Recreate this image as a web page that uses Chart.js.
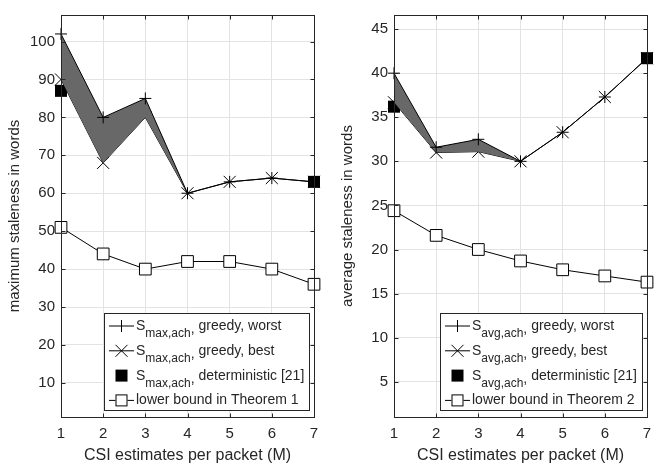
<!DOCTYPE html>
<html>
<head>
    <title>Staleness vs CSI estimates</title>
    <script src="https://cdn.jsdelivr.net/npm/chart.js@4.4.1/dist/chart.umd.min.js"></script>
    <style>
        body {
            margin: 0;
            padding: 0;
            background: #ffffff;
        }
        .wrap {
            position: relative;
            width: 667px;
            height: 468px;
        }
        .panel {
            position: absolute;
            top: 0;
            height: 468px;
        }
    </style>
</head>
<body>
    <div class="wrap">
        <div class="panel" style="left:0;width:333px"><canvas id="maxChart" width="333" height="468"></canvas></div>
        <div class="panel" style="left:333px;width:334px"><canvas id="avgChart" width="334" height="468"></canvas></div>
    </div>

    <script>
        // x axis: CSI estimates per packet
        const mValues = [1, 2, 3, 4, 5, 6, 7];

        // left panel: maximum staleness
        const maxWorst = [102, 80, 85, 60, 63, 64, 63];
        const maxBest = [90, 68, 80, 60, 63, 64, 63];
        const maxDeterministic = [87, null, null, null, null, null, 63];
        const maxLowerBound = [51, 44, 40, 42, 42, 40, 36];
        const maxTicks = [10, 20, 30, 40, 50, 60, 70, 80, 90, 100];

        // right panel: average staleness
        const avgWorst = [40, 31.6, 32.5, 30, 33.3, 37.3, 41.7];
        const avgBest = [36.7, 31, 31.1, 30, 33.3, 37.3, 41.7];
        const avgDeterministic = [36.2, null, null, null, null, null, 41.7];
        const avgLowerBound = [24.4, 21.6, 20, 18.7, 17.7, 17, 16.3];
        const avgTicks = [5, 10, 15, 20, 25, 30, 35, 40, 45];

        const FONT = '"Liberation Sans", Arial, Helvetica, sans-serif';
        const TEXT = '#262626';
        const FILL = '#686868';

        // axes box with inward tick marks, like matlab
        const framePlugin = {
            id: 'frame',
            afterDatasetsDraw(chart) {
                const ctx = chart.ctx;
                const a = chart.chartArea;
                const L = Math.round(a.left) + 0.5, R = Math.round(a.right) + 0.5;
                const T = Math.round(a.top) + 0.5, B = Math.round(a.bottom) + 0.5;
                ctx.save();
                ctx.strokeStyle = TEXT;
                ctx.lineWidth = 1;
                ctx.strokeRect(L, T, R - L, B - T);
                ctx.beginPath();
                chart.scales.x.ticks.forEach(t => {
                    const px = Math.round(chart.scales.x.getPixelForValue(t.value)) + 0.5;
                    ctx.moveTo(px, B); ctx.lineTo(px, B - 4);
                    ctx.moveTo(px, T); ctx.lineTo(px, T + 4);
                });
                chart.scales.y.ticks.forEach(t => {
                    const py = Math.round(chart.scales.y.getPixelForValue(t.value)) + 0.5;
                    ctx.moveTo(L, py); ctx.lineTo(L + 4, py);
                    ctx.moveTo(R, py); ctx.lineTo(R - 4, py);
                });
                ctx.stroke();
                ctx.restore();
            }
        };

        // legend with subscripts, drawn inside the axes bottom right
        const legendPlugin = {
            id: 'subLegend',
            afterDraw(chart, args, opts) {
                const ctx = chart.ctx;
                const a = chart.chartArea;
                const sub = opts.sub;
                ctx.save();
                ctx.textBaseline = 'alphabetic';
                ctx.textAlign = 'left';

                const rows = [
                    { text: ', greedy, worst', marker: 'plus', sub: true },
                    { text: ', greedy, best', marker: 'x', sub: true },
                    { text: ', deterministic [21]', marker: 'filled', sub: true },
                    { text: opts.boundLabel, marker: 'open', sub: false }
                ];

                // measure widest row
                let maxW = 0;
                rows.forEach(r => {
                    let w = 0;
                    if (r.sub) {
                        ctx.font = '14px ' + FONT;
                        w += ctx.measureText('S').width;
                        ctx.font = '12px ' + FONT;
                        w += ctx.measureText(sub).width;
                        ctx.font = '14px ' + FONT;
                        w += ctx.measureText(r.text).width;
                    } else {
                        ctx.font = '14px ' + FONT;
                        w = ctx.measureText(r.text).width;
                    }
                    maxW = Math.max(maxW, w);
                });

                const boxW = Math.round(32 + maxW + 5);
                const boxH = 97;
                const right = Math.round(a.right) - 5;
                const bottom = Math.round(a.bottom) - 7;
                const left = right - boxW, top = bottom - boxH;

                ctx.fillStyle = '#ffffff';
                ctx.fillRect(left, top, boxW, boxH);
                ctx.strokeStyle = TEXT;
                ctx.lineWidth = 1;
                ctx.strokeRect(left + 0.5, top + 0.5, boxW, boxH);

                rows.forEach((r, i) => {
                    const cy = top + 13 + i * 24.8;
                    const mx = left + 17.5;
                    ctx.strokeStyle = '#000000';
                    ctx.fillStyle = '#000000';
                    ctx.lineWidth = 1;
                    if (r.marker !== 'filled') {
                        ctx.beginPath();
                        ctx.moveTo(left + 5, cy); ctx.lineTo(left + 30, cy);
                        ctx.stroke();
                    }
                    ctx.beginPath();
                    if (r.marker === 'plus') {
                        ctx.moveTo(mx, cy - 6); ctx.lineTo(mx, cy + 6);
                        ctx.stroke();
                    } else if (r.marker === 'x') {
                        ctx.moveTo(mx - 6, cy - 6); ctx.lineTo(mx + 6, cy + 6);
                        ctx.moveTo(mx - 6, cy + 6); ctx.lineTo(mx + 6, cy - 6);
                        ctx.stroke();
                    } else if (r.marker === 'filled') {
                        ctx.fillRect(mx - 6, cy - 6, 12, 12);
                    } else {
                        ctx.fillStyle = '#ffffff';
                        ctx.fillRect(mx - 6, cy - 6, 12, 12);
                        ctx.strokeRect(mx - 5.5, cy - 5.5, 11, 11);
                    }

                    ctx.fillStyle = TEXT;
                    let tx = left + 32;
                    const base = cy + 4;
                    if (r.sub) {
                        ctx.font = '14px ' + FONT;
                        ctx.fillText('S', tx, base);
                        tx += ctx.measureText('S').width;
                        ctx.font = '12px ' + FONT;
                        ctx.fillText(sub, tx, base + 7);
                        tx += ctx.measureText(sub).width;
                        ctx.font = '14px ' + FONT;
                        ctx.fillText(',', tx, base + 3);
                        tx += ctx.measureText(',').width;
                        ctx.fillText(r.text.slice(1), tx, base);
                    } else {
                        ctx.font = '14px ' + FONT;
                        ctx.fillText(r.text, tx, base);
                    }
                });
                ctx.restore();
            }
        };

        function makeChart(id, worst, best, det, bound, ticks, yMin, yMax, yTitle, sub, boundLabel, padRight) {
            const ctx = document.getElementById(id).getContext('2d');
            return new Chart(ctx, {
                type: 'line',
                data: {
                    datasets: [
                        {
                            label: 'worst',
                            data: mValues.map((m, i) => ({ x: m, y: worst[i] })),
                            borderColor: '#000000',
                            borderWidth: 1,
                            backgroundColor: FILL,
                            fill: '+1',
                            clip: false,
                            pointStyle: 'cross',
                            pointRadius: 6,
                            pointBorderColor: '#000000',
                            pointBorderWidth: 1
                        },
                        {
                            label: 'best',
                            data: mValues.map((m, i) => ({ x: m, y: best[i] })),
                            borderColor: '#000000',
                            borderWidth: 1,
                            fill: false,
                            clip: false,
                            pointStyle: 'crossRot',
                            pointRadius: 8.5,
                            pointBorderColor: '#000000',
                            pointBorderWidth: 1
                        },
                        {
                            label: 'deterministic',
                            data: mValues.map((m, i) => ({ x: m, y: det[i] })),
                            showLine: false,
                            clip: false,
                            pointStyle: 'rect',
                            pointRadius: 8.5,
                            pointBackgroundColor: '#000000',
                            pointBorderColor: '#000000',
                            pointBorderWidth: 0
                        },
                        {
                            label: 'bound',
                            data: mValues.map((m, i) => ({ x: m, y: bound[i] })),
                            borderColor: '#000000',
                            borderWidth: 1,
                            fill: false,
                            clip: false,
                            pointStyle: 'rect',
                            pointRadius: 8.3,
                            pointBackgroundColor: '#ffffff',
                            pointBorderColor: '#000000',
                            pointBorderWidth: 1
                        }
                    ]
                },
                options: {
                    responsive: false,
                    animation: false,
                    layout: { padding: { top: 4, right: padRight, left: 0, bottom: 0 } },
                    plugins: {
                        legend: { display: false },
                        tooltip: { enabled: false },
                        subLegend: { sub: sub, boundLabel: boundLabel }
                    },
                    scales: {
                        x: {
                            type: 'linear',
                            min: 1,
                            max: 7,
                            afterFit: s => { s.height = 51; },
                            afterBuildTicks: s => { s.ticks = mValues.map(v => ({ value: v })); },
                            grid: { color: '#e3e3e3', drawTicks: false },
                            border: { display: false },
                            ticks: { color: TEXT, font: { family: FONT, size: 15 }, padding: 8 },
                            title: {
                                display: true,
                                text: 'CSI estimates per packet (M)',
                                color: TEXT,
                                font: { family: FONT, size: 16 },
                                padding: { top: 0, bottom: 3 }
                            }
                        },
                        y: {
                            type: 'linear',
                            min: yMin,
                            max: yMax,
                            afterFit: s => { s.width = 61; },
                            afterBuildTicks: s => { s.ticks = ticks.map(v => ({ value: v })); },
                            grid: { color: '#e3e3e3', drawTicks: false },
                            border: { display: false },
                            ticks: { color: TEXT, font: { family: FONT, size: 15 }, padding: 6 },
                            title: {
                                display: true,
                                text: yTitle,
                                color: TEXT,
                                font: { family: FONT, size: 15 },
                                padding: { top: 6, bottom: 0 }
                            }
                        }
                    }
                },
                plugins: [framePlugin, legendPlugin]
            });
        }

        makeChart('maxChart', maxWorst, maxBest, maxDeterministic, maxLowerBound, maxTicks,
            1, 107, 'maximum staleness in words', 'max,ach', 'lower bound in Theorem 1', 19);
        makeChart('avgChart', avgWorst, avgBest, avgDeterministic, avgLowerBound, avgTicks,
            1, 46.6, 'average staleness in words', 'avg,ach', 'lower bound in Theorem 2', 20);
    </script>
</body>
</html>
